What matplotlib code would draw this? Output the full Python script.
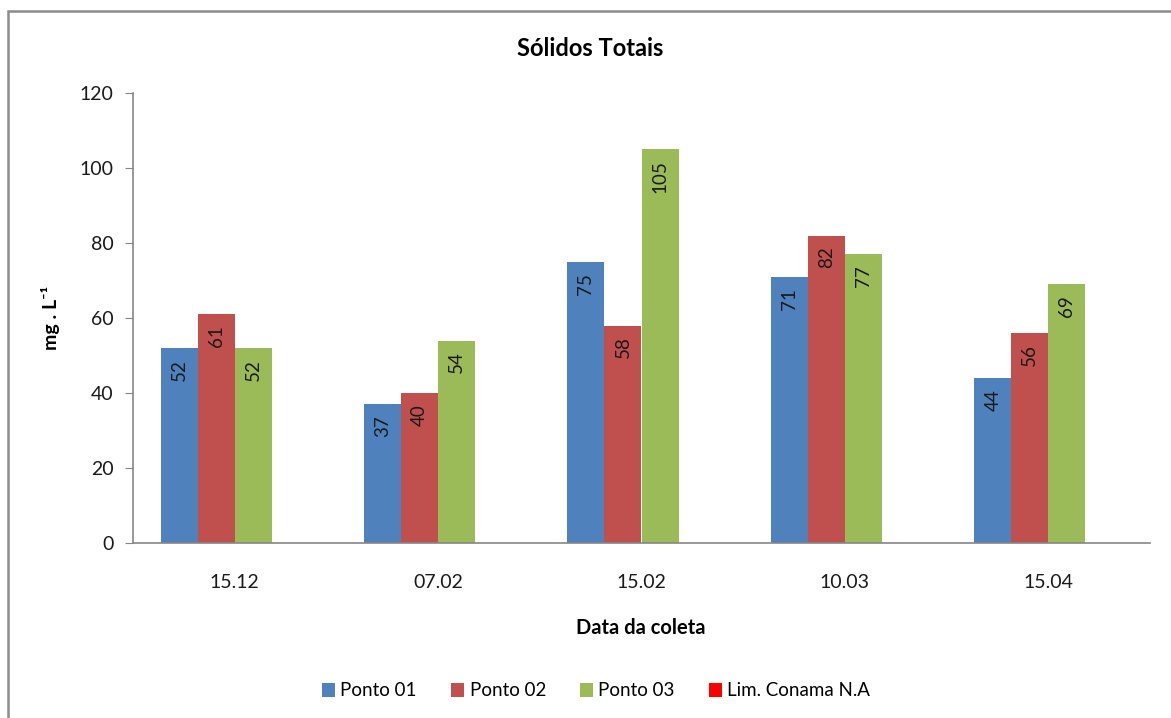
import matplotlib
matplotlib.use("Agg")
import matplotlib.pyplot as plt
from matplotlib.patches import Patch, Rectangle
import numpy as np

plt.rcParams['font.family'] = ['Lato', 'DejaVu Sans']

dates = ["15.12", "07.02", "15.02", "10.03", "15.04"]
ponto01 = [52, 37, 75, 71, 44]
ponto02 = [61, 40, 58, 82, 56]
ponto03 = [52, 54, 105, 77, 69]
lim_conama = [None, None, None, None, None]  # no limit values given (N.A)
series_names = ["Ponto 01", "Ponto 02", "Ponto 03", "Lim. Conama N.A"]
colors = ["#4F81BD", "#C0504D", "#9BBB59", "#FF0000"]
yticks = [0, 20, 40, 60, 80, 100, 120]

fig = plt.figure(figsize=(11.71, 7.18), dpi=100)
ax = fig.add_axes([133 / 1171, 1 - 543 / 718, (1150 - 133) / 1171, (543 - 93) / 718])

# chart-area frame
fig.patches.append(Rectangle((8 / 1171, -0.05), 1.2, 1 - 11 / 718 + 0.05,
                             transform=fig.transFigure, fill=False,
                             edgecolor="#8c8c8c", linewidth=1.8))

x = np.arange(len(dates))
w = 0.182
all_series = [ponto01, ponto02, ponto03, lim_conama]
n = len(all_series)
for i, (vals, col) in enumerate(zip(all_series, colors)):
    heights = [v if v is not None else 0 for v in vals]
    bars = ax.bar(x + (i - (n - 1) / 2) * w, heights, w, color=col, zorder=2)
    for b, v in zip(bars, vals):
        if v is None:
            continue
        ax.annotate(f"{v}", (b.get_x() + b.get_width() / 2, v),
                    xytext=(0, -8), textcoords="offset points",
                    rotation=90, ha="center", va="top",
                    fontsize=13.5, color="#1a1a1a")

ax.set_xlim(-0.5, len(dates) - 0.5)
ax.set_ylim(0, 120)
ax.set_yticks(yticks)
ax.set_xticks(x)
ax.set_xticklabels(dates)
ax.tick_params(axis="y", length=6, color="#868686", labelsize=14, pad=8, labelcolor="#1a1a1a")
ax.tick_params(axis="x", length=0, labelsize=14, pad=22, labelcolor="#1a1a1a")
for s in ["top", "right"]:
    ax.spines[s].set_visible(False)
for s in ["left", "bottom"]:
    ax.spines[s].set_color("#868686")
    ax.spines[s].set_linewidth(1.2)

fig.text(590 / 1171, 1 - 48 / 718, "Sólidos Totais", ha="center", va="center",
         fontsize=17, fontweight="bold")
fig.text(641 / 1171, 1 - 628 / 718, "Data da coleta", ha="center", va="center",
         fontsize=14.5, fontweight="bold")
fig.text(50 / 1171, 1 - 318 / 718, "mg . L⁻¹", ha="center", va="center",
         rotation=90, fontsize=14, fontweight="bold")

handles = [Patch(facecolor=c, edgecolor="none") for c in colors]
fig.legend(handles, series_names, loc="center", bbox_to_anchor=(596 / 1171, 1 - 691 / 718),
           ncol=4, frameon=False, fontsize=13.5, handlelength=0.7, handleheight=0.7,
           handletextpad=0.3, columnspacing=1.8)

fig.savefig("out.png", dpi=100, facecolor="white")
